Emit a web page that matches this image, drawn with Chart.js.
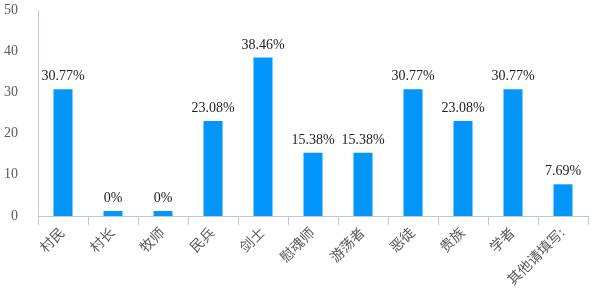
<!DOCTYPE html>
<html>
<head>
<meta charset="utf-8">
<script src="https://cdn.jsdelivr.net/npm/chart.js@4/dist/chart.umd.min.js"></script>
<style>
html,body{margin:0;padding:0;background:#fff;}
#wrap{width:600px;height:300px;}
</style>
</head>
<body>
<div id="wrap"><canvas id="c" width="600" height="300"></canvas></div>
<script>
const categories = ["村民","村长","牧师","民兵","剑士","慰魂师","游荡者","恶徒","贵族","学者","其他请填写:"];
const percents = [30.77,0,0,23.08,38.46,15.38,15.38,30.77,23.08,30.77,7.69];
const yTicks = [0,10,20,30,40,50];

const serif = "Liberation Serif, Noto Sans CJK SC, serif";

const labelPlugin = {
id:"barLabels",
afterDatasetsDraw(chart){
const ctx = chart.ctx;
const meta = chart.getDatasetMeta(0);
ctx.save();
ctx.font = "14px " + serif;
ctx.fillStyle = "#222";
ctx.textAlign = "center";
ctx.textBaseline = "alphabetic";
meta.data.forEach((bar,i)=>{
ctx.fillText(percents[i] + "%", bar.x, bar.y - 9);
});
ctx.restore();
}
};

function draw(){
new Chart(document.getElementById("c"),{
type:"bar",
data:{
labels:categories,
datasets:[{
data:percents,
backgroundColor:"#0396fa",
barPercentage:0.38,
categoryPercentage:1,
minBarLength:5
}]
},
options:{
responsive:false,
animation:false,
layout:{padding:{top:10,right:12,left:0,bottom:0}},
plugins:{legend:{display:false},tooltip:{enabled:false}},
scales:{
x:{
grid:{display:true,drawOnChartArea:false,offset:true,tickLength:9,color:"#b9cadb"},
border:{color:"#b9cadb"},
ticks:{
color:"#595959",
font:{size:14,family:serif},
maxRotation:45,
minRotation:45,
padding:0
},
afterFit(scale){scale.height = 84;}
},
y:{
min:0,
max:50,
afterBuildTicks(scale){scale.ticks = yTicks.map(v=>({value:v}));},
grid:{display:false},
border:{color:"#b9cadb"},
ticks:{
color:"#595959",
font:{size:14,family:serif},
padding:12
},
afterFit(scale){
scale.width = 38;
scale.paddingTop = 0;
scale.paddingBottom = 0;
}
}
}
},
plugins:[labelPlugin]
});
}

Promise.all([
document.fonts.load("14px Liberation Serif"),
document.fonts.load("14px Noto Sans CJK SC","村民")
]).then(draw,draw);
</script>
</body>
</html>
